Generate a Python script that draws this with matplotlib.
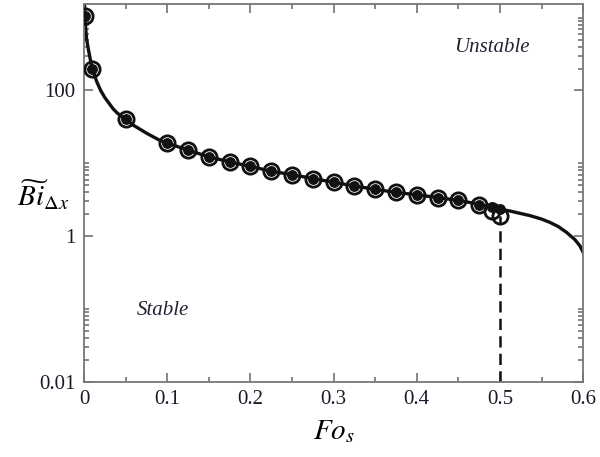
import numpy as np
import matplotlib
matplotlib.use('Agg')
import matplotlib.pyplot as plt
from matplotlib.ticker import FixedLocator, NullFormatter

plt.rcParams['font.family'] = ['Liberation Serif', 'DejaVu Serif']
plt.rcParams['mathtext.fontset'] = 'stix'

# stability limit curve
curve_fo = [0.0006, 0.001, 0.002, 0.003, 0.005, 0.0075, 0.01, 0.015, 0.02, 0.025,
            0.03, 0.035, 0.04, 0.05, 0.06, 0.075, 0.09, 0.1, 0.125, 0.15, 0.175,
            0.2, 0.225, 0.25, 0.275, 0.3, 0.325, 0.35, 0.375, 0.4, 0.425, 0.45,
            0.475, 0.49, 0.5, 0.512, 0.525, 0.536, 0.55, 0.56, 0.57, 0.58, 0.59,
            0.596, 0.6]
curve_bi = [1600, 1050, 720, 520, 380, 270, 200, 135, 100, 80,
            67, 56, 49, 40, 33, 26, 21, 19, 15.2, 12.3, 10.5,
            9.1, 7.8, 7.0, 6.2, 5.5, 4.9, 4.4, 4.0, 3.7, 3.4, 3.1,
            2.75, 2.5, 2.35, 2.22, 2.05, 1.92, 1.72, 1.55, 1.36, 1.13, 0.9,
            0.74, 0.6]

# computed points (filled dots) and reference points (open circles)
pts_fo = [0.001, 0.01, 0.05, 0.1, 0.125, 0.15, 0.175, 0.2, 0.225, 0.25, 0.275,
          0.3, 0.325, 0.35, 0.375, 0.4, 0.425, 0.45, 0.475, 0.49, 0.5]
dot_bi = [1050, 200, 40, 19, 15.2, 12.3, 10.5, 9.1, 7.8, 7.0, 6.2,
          5.5, 4.9, 4.4, 4.0, 3.7, 3.4, 3.1, 2.72, 2.5, 2.37]
circ_bi = [1050, 200, 40, 19, 15.2, 12.3, 10.5, 9.1, 7.8, 7.0, 6.2,
           5.5, 4.9, 4.4, 4.0, 3.7, 3.4, 3.1, 2.7, 2.25, 1.92]

limit_fo = 0.5
limit_bi = 1.92

fig = plt.figure(figsize=(6, 4.57), dpi=100)
ax = fig.add_axes([0.14, 0.164, 0.832, 0.827])

ax.plot(curve_fo, curve_bi, color='#111111', linewidth=2.4, zorder=2)
ax.plot([limit_fo, limit_fo], [0.01, limit_bi], color='#111111', linewidth=1.8,
        linestyle=(0, (4.5, 2.5)), zorder=2)
ax.plot(pts_fo, circ_bi, linestyle='none', marker='o', markersize=11,
        markerfacecolor='none', markeredgecolor='#111111', markeredgewidth=2.0, zorder=3)
ax.plot(pts_fo, dot_bi, linestyle='none', marker='o', markersize=6.8,
        markerfacecolor='#111111', markeredgecolor='#111111', zorder=4)

ax.set_yscale('log')
ax.set_xlim(0, 0.6)
ax.set_ylim(0.01, 1530)

ax.xaxis.set_major_locator(FixedLocator([0, 0.1, 0.2, 0.3, 0.4, 0.5, 0.6]))
ax.xaxis.set_minor_locator(FixedLocator([0.05, 0.15, 0.25, 0.35, 0.45, 0.55]))
ax.set_xticklabels(['0', '0.1', '0.2', '0.3', '0.4', '0.5', '0.6'])

ax.yaxis.set_major_locator(FixedLocator([0.01, 1, 100]))
ax.set_yticklabels(['0.01', '1', '100'])
minor_y = [m * b for b in (0.01, 1, 100) for m in range(2, 11)]
ax.yaxis.set_minor_locator(FixedLocator(minor_y))
ax.yaxis.set_minor_formatter(NullFormatter())

for s in ax.spines.values():
    s.set_color('#777777')
    s.set_linewidth(1.3)
ax.tick_params(which='both', direction='in', top=True, right=True,
               color='#666666', width=1.1, labelsize=15, labelcolor='#1a1a2a')
ax.tick_params(which='major', length=6.5, pad=6)
ax.tick_params(which='minor', length=3.5)

ax.set_xlabel(r'$Fo_s$', fontsize=21, labelpad=6)
ax.set_ylabel(r'$\widetilde{Bi}_{\Delta x}$', fontsize=21, rotation=0, labelpad=2)
ax.yaxis.set_label_coords(-0.082, 0.45)

ax.text(0.816, 0.885, 'Unstable', transform=ax.transAxes, fontsize=15,
        style='italic', color='#222233', ha='center', va='center')
ax.text(0.158, 0.19, 'Stable', transform=ax.transAxes, fontsize=15,
        style='italic', color='#222233', ha='center', va='center')

fig.savefig('out.png', dpi=100)
